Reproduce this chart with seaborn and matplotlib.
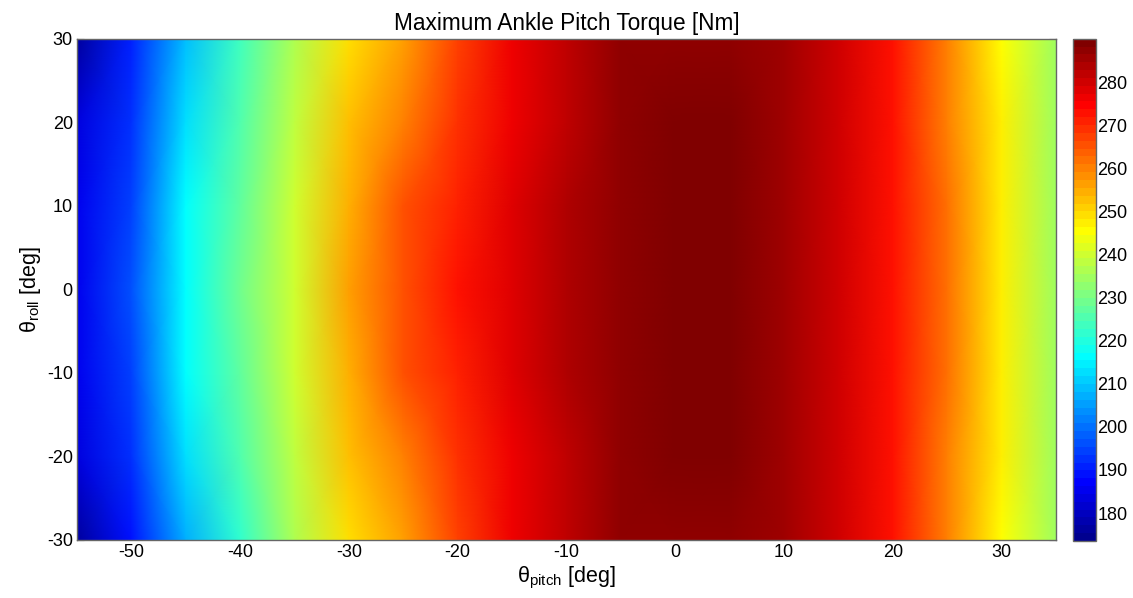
import numpy as np
import pandas as pd
import matplotlib
matplotlib.use("Agg")
import matplotlib.pyplot as plt
from matplotlib.colors import ListedColormap
import seaborn as sns

# ---------------- data ----------------
pitch_deg = [-55, -50, -45, -40, -35, -30, -25, -20, -15, -10, -5, 0, 5, 10, 15, 20, 25, 30, 35]
roll_deg = [30, 20, 10, 0, -10, -20, -30]

torque_roll_p30 = [177, 190, 209, 223, 235.5, 249, 257, 267, 276, 282.0, 286.8, 288.0, 287.5, 285.0, 280.0, 272.5, 260.0, 245.0, 234]
torque_roll_p20 = [183, 193, 213, 226, 237.5, 252, 261, 269, 277, 282.5, 287.5, 289.5, 289.0, 286.0, 280.5, 273.0, 261.0, 246.5, 235]
torque_roll_p10 = [185, 195, 216, 228, 239.5, 255, 265, 271, 278, 283.0, 288.2, 290.0, 289.5, 286.0, 280.8, 273.0, 261.5, 247.5, 235]
torque_roll_0 = [186, 196, 217, 229, 239.5, 256, 266, 272, 278, 283.0, 288.3, 290.0, 289.5, 286.0, 280.8, 273.0, 261.5, 247.5, 235]
torque_roll_m10 = [185, 195, 216, 228, 239.5, 255, 265, 271, 278, 283.0, 288.2, 290.0, 289.5, 286.0, 280.8, 273.0, 261.5, 247.5, 235]
torque_roll_m20 = [183, 193, 213, 226, 237.5, 252, 261, 269, 277, 282.5, 287.7, 289.5, 289.0, 286.0, 280.5, 273.0, 261.0, 247.0, 235]
torque_roll_m30 = [176, 189, 207, 222, 235.5, 249, 257, 267, 276, 282.0, 286.8, 287.8, 287.8, 285.3, 280.0, 272.5, 260.0, 246.0, 234]

x_tick_values = [-50, -40, -30, -20, -10, 0, 10, 20, 30]
y_tick_values = [-30, -20, -10, 0, 10, 20, 30]
cbar_tick_values = [180, 190, 200, 210, 220, 230, 240, 250, 260, 270, 280]

title_text = "Maximum Ankle Pitch Torque [Nm]"
x_label = "θ$_{\\mathrm{pitch}}$ [deg]"
y_label = "θ$_{\\mathrm{roll}}$ [deg]"

c_min, c_max = 173.5, 290.2

# ---------------- styling ----------------
sns.set_style("white")
plt.rcParams["font.family"] = ["Liberation Sans", "DejaVu Sans"]
plt.rcParams["mathtext.fontset"] = "custom"
plt.rcParams["mathtext.rm"] = "Liberation Sans"
plt.rcParams["mathtext.it"] = "Liberation Sans:italic"
plt.rcParams["axes.unicode_minus"] = False
for k in ("text.color", "axes.labelcolor", "xtick.color", "ytick.color"):
    plt.rcParams[k] = "black"


def matlab_jet(m=64):
    n = int(np.ceil(m / 4))
    u = np.concatenate([np.arange(1, n + 1) / n, np.ones(n - 1), np.arange(n, 0, -1) / n])
    g = int(np.ceil(n / 2)) - (1 if m % 4 == 1 else 0) + np.arange(1, len(u) + 1)
    r = g + n
    b = g - n
    cols = np.zeros((m, 3))
    for arr, ch in ((r, 0), (g, 1), (b, 2)):
        ok = (arr >= 1) & (arr <= m)
        cols[arr[ok] - 1, ch] = u[ok]
    return ListedColormap(cols)


jet = matlab_jet(64)

df = pd.DataFrame(
    [torque_roll_p30, torque_roll_p20, torque_roll_p10, torque_roll_0,
     torque_roll_m10, torque_roll_m20, torque_roll_m30],
    index=roll_deg, columns=pitch_deg,
)

W, H = 1133, 598
fig = plt.figure(figsize=(W / 100, H / 100), dpi=100)
ax = fig.add_axes([77 / W, 1 - 540 / H, (1056 - 77) / W, (540 - 38.7) / H])
cax = fig.add_axes([1073 / W, 1 - 541 / H, 23 / W, (541 - 38.7) / H])

sns.heatmap(df, ax=ax, cbar_ax=cax, cmap=jet, vmin=c_min, vmax=c_max,
            shading="gouraud", xticklabels=False, yticklabels=False)

ncol, nrow = len(pitch_deg), len(roll_deg)
ax.set_xlim(0, ncol - 1)
ax.set_ylim(nrow - 1, 0)

p0, dp = pitch_deg[0], pitch_deg[1] - pitch_deg[0]
r0, dr = roll_deg[0], roll_deg[1] - roll_deg[0]
ax.set_xticks([(v - p0) / dp for v in x_tick_values])
ax.set_xticklabels([str(v) for v in x_tick_values], fontsize=13)
ax.set_yticks([(v - r0) / dr for v in y_tick_values])
ax.set_yticklabels([str(v) for v in y_tick_values], fontsize=13, rotation=0)
ax.tick_params(direction="in", length=5, width=0.8, color="#333333",
               bottom=True, left=True, top=True, right=True, pad=3)

for s in ax.spines.values():
    s.set_visible(True)
    s.set_color("#666666")
    s.set_linewidth(1.0)

ax.set_title(title_text, fontsize=16.3, pad=6)
ax.set_xlabel(x_label, fontsize=15.5, labelpad=3)
ax.set_ylabel(y_label, fontsize=15.5, labelpad=3)

cbar = ax.collections[0].colorbar
if cbar is not None:
    cbar.outline.set_linewidth(1.0)
    cbar.outline.set_edgecolor("#666666")
cax.set_yticks(cbar_tick_values)
cax.set_yticklabels([str(v) for v in cbar_tick_values], fontsize=13)
cax.tick_params(direction="in", length=5, width=0.8, color="#333333",
                left=True, right=True, pad=1, labelleft=False, labelright=True)

fig.savefig("out.png", dpi=100)
